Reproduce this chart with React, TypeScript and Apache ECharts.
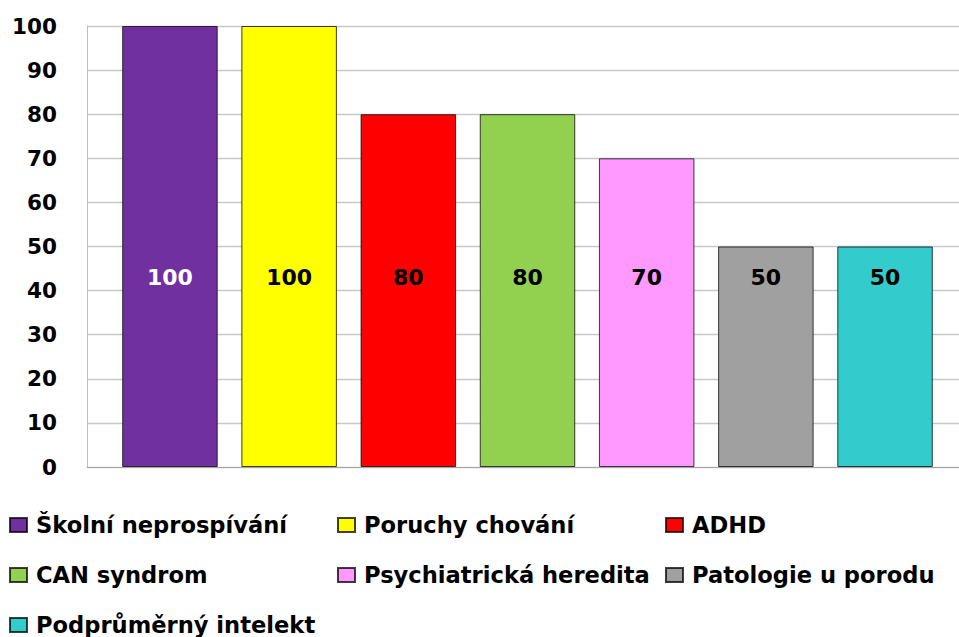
import React, { useEffect, useRef } from "react";
import * as echarts from "echarts";

const categories = [
  "Školní neprospívání",
  "Poruchy chování",
  "ADHD",
  "CAN syndrom",
  "Psychiatrická heredita",
  "Patologie u porodu",
  "Podprůměrný intelekt",
];
const values = [100, 100, 80, 80, 70, 50, 50];
const yTicks = [0, 10, 20, 30, 40, 50, 60, 70, 80, 90, 100];

const colors = ["#7030A0", "#FFFF00", "#FF0000", "#92D050", "#FF99FF", "#A0A0A0", "#33CCCC"];
const labelColors = ["#FFFFFF", "#000000", "#000000", "#000000", "#000000", "#000000", "#000000"];

const legendColumns = [
  [categories[0], categories[3], categories[6]],
  [categories[1], categories[4]],
  [categories[2], categories[5]],
];
const legendLefts = [9, 337, 665];

const FONT = "DejaVu Sans";

export default function App() {
  const ref = useRef<HTMLDivElement>(null);
  useEffect(() => {
    if (!ref.current) return;
    const chart = echarts.init(ref.current, undefined, { renderer: "svg" });
    const option: any = {
      animation: false,
      backgroundColor: "#FFFFFF",
      grid: { left: 87, right: 0, top: 26, bottom: 170, containLabel: false },
      xAxis: {
        type: "category",
        data: [""],
        axisLine: { show: true, lineStyle: { color: "#A6A6A6", width: 1 } },
        axisTick: { show: false },
        axisLabel: { show: false },
      },
      yAxis: {
        type: "value",
        min: yTicks[0],
        max: yTicks[yTicks.length - 1],
        interval: 10,
        axisLine: { show: true, lineStyle: { color: "#BFBFBF", width: 1 } },
        axisTick: { show: false },
        axisLabel: {
          margin: 30,
          fontFamily: FONT,
          fontWeight: "bold",
          fontSize: 21.5,
          color: "#000000",
        },
        splitLine: { show: true, lineStyle: { color: "#C8C8C8", width: 1.3 } },
      },
      legend: legendColumns.map((col, i) => ({
        data: col,
        orient: "vertical",
        left: legendLefts[i],
        top: 513.5,
        itemWidth: 17,
        itemHeight: 14,
        itemGap: 27,
        icon: "rect",
        selectedMode: false,
        padding: 0,
        textStyle: {
          fontFamily: FONT,
          fontWeight: "bold",
          fontSize: 22.6,
          lineHeight: 22,
          color: "#000000",
          padding: [0, 0, 0, 4],
        },
      })),
      series: categories.map((name, i) => ({
        name,
        type: "bar",
        data: [values[i]],
        barWidth: 95.5,
        barGap: "24.8%",
        itemStyle: {
          color: colors[i],
          borderColor: "rgba(0,0,0,0.75)",
          borderWidth: 1,
        },
        label: {
          show: true,
          position: "insideBottom",
          distance: 178.5,
          fontFamily: FONT,
          fontWeight: "bold",
          fontSize: 22,
          lineHeight: 22,
          color: labelColors[i],
        },
      })),
    };
    chart.setOption(option);
    return () => chart.dispose();
  }, []);
  return (
    <div
      style={{
        position: "absolute",
        left: 0,
        top: 0,
        width: 959,
        height: 637,
        overflow: "hidden",
        background: "#FFFFFF",
      }}
    >
      <div ref={ref} style={{ width: 968, height: 637 }} />
    </div>
  );
}
